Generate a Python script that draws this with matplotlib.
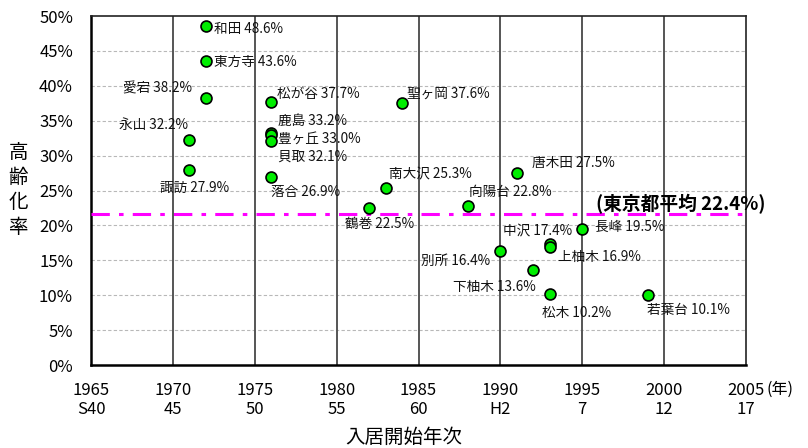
import matplotlib
matplotlib.use("Agg")
import matplotlib.pyplot as plt
from matplotlib.ticker import FixedLocator, FuncFormatter

plt.rcParams['font.family'] = ['Noto Sans CJK JP', 'DejaVu Sans']

# ---- data ----
names = ['和田', '東方寺', '愛宕', '永山', '諏訪', '松が谷', '鹿島', '豊ヶ丘', '貝取', '落合',
         '聖ヶ岡', '南大沢', '鶴巻', '向陽台', '唐木田', '別所', '下柚木', '中沢', '上柚木',
         '松木', '長峰', '若葉台']
years = [1972, 1972, 1972, 1971, 1971, 1976, 1976, 1976, 1976, 1976,
         1984, 1983, 1982, 1988, 1991, 1990, 1992, 1993, 1993,
         1993, 1995, 1999]
rates = [48.6, 43.6, 38.2, 32.2, 27.9, 37.7, 33.2, 33.0, 32.1, 26.9,
         37.6, 25.3, 22.5, 22.8, 27.5, 16.4, 13.6, 17.4, 16.9,
         10.2, 19.5, 10.1]
tokyo_avg_label = 22.4
tokyo_avg_line = 21.6
x_ticks = [1965, 1970, 1975, 1980, 1985, 1990, 1995, 2000, 2005]
x_tick_labels = ['1965\nS40', '1970\n45', '1975\n50', '1980\n55', '1985\n60',
                 '1990\nH2', '1995\n7', '2000\n12', '2005\n17']
y_ticks = [0, 5, 10, 15, 20, 25, 30, 35, 40, 45, 50]

# label offsets in pixels (dx, dy, ha)
offsets = {
    '和田': (8, -3, 'left'), '東方寺': (8, -1, 'left'), '愛宕': (-14, 10, 'right'),
    '永山': (-1, 15, 'right'), '諏訪': (-29, -18, 'left'), '松が谷': (6, 8, 'left'),
    '鹿島': (7, 12, 'left'), '豊ヶ丘': (7, -4, 'left'), '貝取': (7, -16, 'left'),
    '落合': (0, -15, 'left'), '聖ヶ岡': (5, 9, 'left'), '南大沢': (3, 14, 'left'),
    '鶴巻': (-24, -16, 'left'), '向陽台': (1, 14, 'left'), '唐木田': (15, 10, 'left'),
    '別所': (-10, -10, 'right'), '下柚木': (3, -17, 'right'), '中沢': (23, 12, 'right'),
    '上柚木': (9, -10, 'left'), '松木': (-8, -19, 'left'), '長峰': (13, 2, 'left'),
    '若葉台': (-1, -15, 'left'),
}

fig = plt.figure(figsize=(8.08, 4.48), dpi=100)
ax = fig.add_axes([91/808, 83/448, 655/808, 349/448])

ax.set_xlim(1965, 2005)
ax.set_ylim(0, 50)

# gridlines
for y in y_ticks[1:-1]:
    ax.axhline(y, color='#b8b8b8', lw=0.8, ls=(0, (3, 2)), zorder=1)
for x in x_ticks[1:-1]:
    ax.axvline(x, color='#555555', lw=1.4, zorder=2)

# Tokyo average line
ax.axhline(tokyo_avg_line, color='#ff00ff', lw=2.2, ls=(0, (6, 3, 1.5, 3)), zorder=3)
ax.annotate(f'(東京都平均 {tokyo_avg_label}%)', xy=(1995, tokyo_avg_line),
            xytext=(14, 10), textcoords='offset pixels', fontsize=13.5,
            fontweight='bold', ha='left', va='center', zorder=6,
            annotation_clip=False)

ax.scatter(years, rates, s=62, c='#00ee00', edgecolors='black', linewidths=1.2, zorder=5)

for n, xv, yv in zip(names, years, rates):
    dx, dy, ha = offsets[n]
    ax.annotate(f'{n} {yv}%', xy=(xv, yv), xytext=(dx, dy), textcoords='offset pixels',
                fontsize=9.8, ha=ha, va='center', zorder=6, color='#111111')

ax.xaxis.set_major_locator(FixedLocator(x_ticks))
ax.set_xticklabels(x_tick_labels, fontsize=12, linespacing=1.2)
ax.yaxis.set_major_locator(FixedLocator(y_ticks))
ax.yaxis.set_major_formatter(FuncFormatter(lambda v, p: f'{int(v)}%'))
ax.tick_params(axis='y', labelsize=12, length=0, pad=13)
ax.tick_params(axis='x', length=0, pad=12)

for s in ['left', 'bottom']:
    ax.spines[s].set_linewidth(1.8)
for s in ['top', 'right']:
    ax.spines[s].set_linewidth(1.2)
    ax.spines[s].set_color('#222222')

ax.text((766 - 91) / 655, -24 / 349, '(年)', transform=ax.transAxes, fontsize=11.5,
        ha='left', va='center')

fig.text(18/808, 1 - 190/448, '高\n齢\n化\n率', fontsize=14, ha='center', va='center',
         linespacing=1.25)
fig.text(404/808, 1 - 437/448, '入居開始年次', fontsize=14, ha='center', va='center')

fig.savefig('out.png', dpi=100)
